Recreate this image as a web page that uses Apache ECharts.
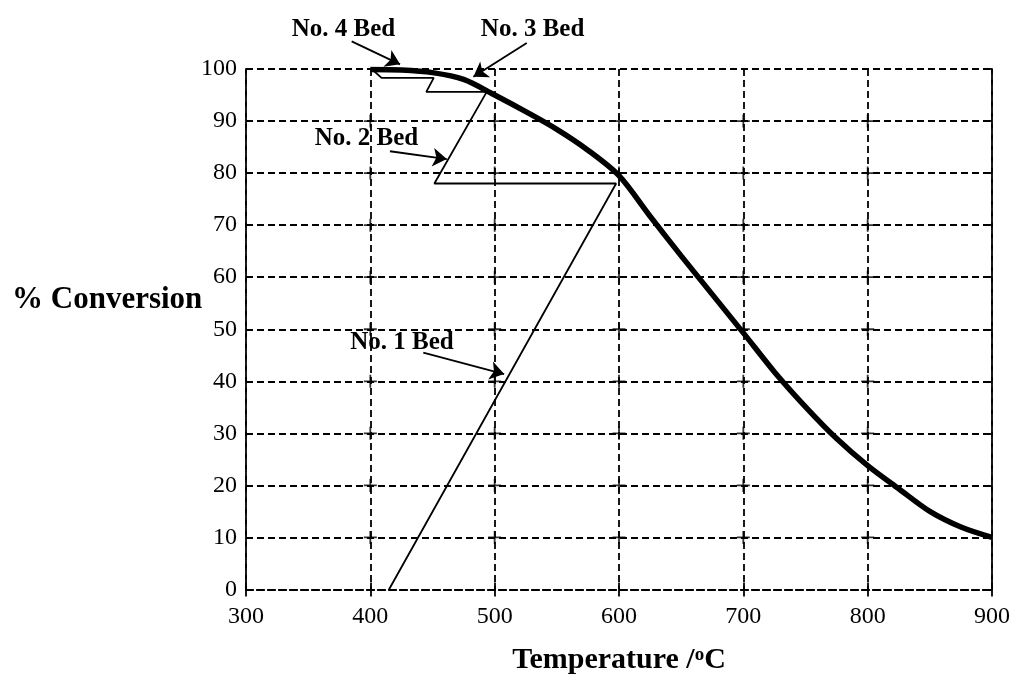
<!DOCTYPE html>
<html>
<head>
<meta charset="utf-8">
<script src="https://cdn.jsdelivr.net/npm/echarts@6/dist/echarts.min.js"></script>
<style>
  html, body { margin: 0; background: #fff; }
  #chart { width: 1018px; height: 678px; }
</style>
</head>
<body>
<div id="chart"></div>
<script>
  // equilibrium conversion curve (thick line)
  var eqTemp = [400, 425, 450, 475, 500, 525, 550, 575, 600, 625, 650, 675, 700, 725, 750, 775, 800, 825, 850, 875, 900];
  var eqConv = [99.9, 99.8, 99.3, 98.0, 95.0, 91.8, 88.4, 84.4, 79.5, 71.7, 64.1, 56.7, 49.3, 41.8, 35.1, 29.0, 23.8, 19.35, 15.0, 12.0, 10.0];

  // adiabatic bed path with inter-bed cooling (thin line)
  var pathTemp = [415, 597.7, 451.5, 493.6, 445, 451, 409, 402];
  var pathConv = [0, 78, 78, 95.6, 95.6, 98.3, 98.3, 99.8];

  // bed annotations
  var bedNames = ['No. 1 Bed', 'No. 2 Bed', 'No. 3 Bed', 'No. 4 Bed'];
  var labelTemp = [425.5, 396.9, 530.5, 378.4];
  var labelConv = [47.5, 86.6, 107.6, 107.6];
  var arrowFromTemp = [442.6, 415.8, 525.8, 385];
  var arrowFromConv = [45.5, 84.2, 105.0, 105.3];
  var arrowToTemp = [507.6, 461.5, 482.9, 423.9];
  var arrowToConv = [41.4, 82.7, 98.5, 100.9];

  var xTicks = [300, 400, 500, 600, 700, 800, 900];
  var yTicks = [0, 10, 20, 30, 40, 50, 60, 70, 80, 90, 100];

  var serif = 'Liberation Serif';
  var dash = [7, 4];

  function zip(a, b) {
    return a.map(function (v, i) { return [v, b[i]]; });
  }

  var arrows = arrowFromTemp.map(function (t, i) {
    return { coords: [[t, arrowFromConv[i]], [arrowToTemp[i], arrowToConv[i]]] };
  });
  var labels = labelTemp.map(function (t, i) {
    return { value: [t, labelConv[i]], name: bedNames[i] };
  });
  // small crosses where the inner grid lines meet
  var crosses = [];
  xTicks.slice(1, -1).forEach(function (x) {
    yTicks.slice(1, -1).forEach(function (y) { crosses.push([x, y]); });
  });

  var chart = echarts.init(document.getElementById('chart'));

  var axisLine = { show: true, lineStyle: { color: '#000', width: 1.8, type: dash } };
  var splitLine = { show: true, lineStyle: { color: '#000', width: 1.8, type: dash } };
  var tick = { show: true, inside: true, length: 7, lineStyle: { color: '#000', width: 1.8 } };

  chart.setOption({
    animation: false,
    backgroundColor: '#fff',
    title: {
      text: '% Conversion',
      left: 12,
      top: 284,
      padding: 0,
      textStyle: { color: '#000', fontFamily: serif, fontWeight: 'bold', fontSize: 31 }
    },
    grid: { left: 246, right: 26, top: 69, bottom: 88.5, outerBoundsMode: 'none' },
    xAxis: [{
      type: 'value',
      min: xTicks[0],
      max: xTicks[xTicks.length - 1],
      interval: 100,
      position: 'bottom',
      axisLine: axisLine,
      axisTick: tick,
      splitLine: splitLine,
      axisLabel: { color: '#000', fontFamily: serif, fontSize: 24, margin: 15 },
      name: 'Temperature /{sup|o}C',
      nameLocation: 'middle',
      nameGap: 56,
      nameTextStyle: {
        color: '#000', fontFamily: serif, fontWeight: 'bold', fontSize: 30,
        rich: {
          sup: { color: '#000', fontFamily: serif, fontWeight: 'bold', fontSize: 19, verticalAlign: 'top', padding: [0, 0, 8, 0] }
        }
      }
    }, {
      type: 'value',
      min: xTicks[0],
      max: xTicks[xTicks.length - 1],
      interval: 100,
      position: 'top',
      axisLine: axisLine,
      axisTick: tick,
      splitLine: { show: false },
      axisLabel: { show: false }
    }],
    yAxis: [{
      type: 'value',
      min: yTicks[0],
      max: yTicks[yTicks.length - 1],
      interval: 10,
      position: 'left',
      axisLine: axisLine,
      axisTick: tick,
      splitLine: splitLine,
      axisLabel: { color: '#000', fontFamily: serif, fontSize: 24, margin: 9 }
    }, {
      type: 'value',
      min: yTicks[0],
      max: yTicks[yTicks.length - 1],
      interval: 10,
      position: 'right',
      axisLine: axisLine,
      axisTick: tick,
      splitLine: { show: false },
      axisLabel: { show: false }
    }],
    series: [{
      type: 'scatter',
      silent: true,
      symbol: 'path://M0,6L12,6M6,0L6,12',
      symbolSize: 13,
      itemStyle: { color: 'rgba(0,0,0,0)', borderColor: '#000', borderWidth: 1.8 },
      data: crosses
    }, {
      type: 'line',
      data: zip(eqTemp, eqConv),
      smooth: 0.3,
      symbol: 'none',
      silent: true,
      lineStyle: { color: '#000', width: 5.5 }
    }, {
      type: 'line',
      data: zip(pathTemp, pathConv),
      symbol: 'none',
      silent: true,
      lineStyle: { color: '#000', width: 1.8 }
    }, {
      type: 'lines',
      coordinateSystem: 'cartesian2d',
      clip: false,
      silent: true,
      symbol: ['none', 'arrow'],
      symbolSize: 14,
      lineStyle: { color: '#000', width: 1.8, opacity: 1 },
      data: arrows
    }, {
      type: 'scatter',
      clip: false,
      silent: true,
      symbolSize: 0,
      itemStyle: { color: '#000' },
      label: {
        show: true,
        position: 'inside',
        formatter: '{b}',
        color: '#000',
        opacity: 1,
        fontFamily: serif,
        fontWeight: 'bold',
        fontSize: 25
      },
      data: labels
    }]
  });
</script>
</body>
</html>
